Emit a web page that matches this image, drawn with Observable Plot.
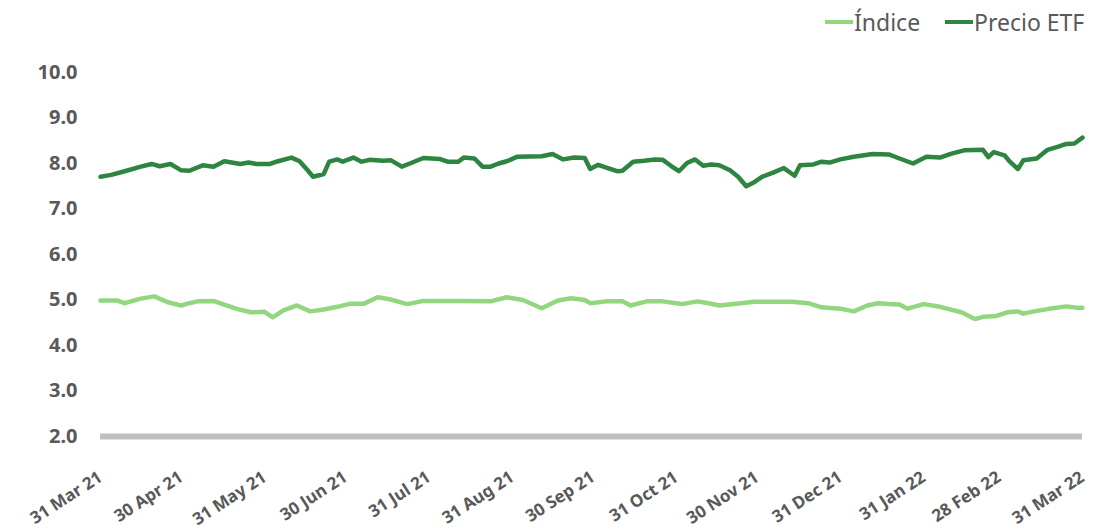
<!DOCTYPE html>
<html>
<head>
<meta charset="utf-8">
<script src="https://cdn.jsdelivr.net/npm/d3@7"></script>
<script src="https://cdn.jsdelivr.net/npm/@observablehq/plot@0.6"></script>
<style>
  body { margin: 0; background: #fff; width: 1114px; height: 529px; overflow: hidden; font-family: "Noto Sans", sans-serif; }
  #legend { position: relative; height: 50px; }
  .item { position: absolute; top: 6px; display: flex; align-items: center; font-size: 23px; color: #595959; }
  .sw { display: inline-block; width: 28px; height: 4px; margin-right: 1px; }
  #chart svg text { font-weight: bold; fill: #595959; }
</style>
</head>
<body>
<div id="legend">
  <div class="item" style="left:825px"><span class="sw" style="background:#92d67f"></span>Índice</div>
  <div class="item" style="left:945px"><span class="sw" style="background:#2e8540"></span>Precio ETF</div>
</div>
<div id="chart"></div>
<script>
const seriesNames = ["Índice", "Precio ETF"];
const seriesColors = ["#92d67f", "#2e8540"];

const etfDates = ["2021-03-31","2021-04-04","2021-04-09","2021-04-15","2021-04-19","2021-04-22","2021-04-26","2021-04-30","2021-05-03","2021-05-08","2021-05-12","2021-05-16","2021-05-22","2021-05-25","2021-05-28","2021-06-02","2021-06-05","2021-06-10","2021-06-13","2021-06-16","2021-06-18","2021-06-22","2021-06-24","2021-06-27","2021-06-29","2021-07-03","2021-07-06","2021-07-09","2021-07-14","2021-07-17","2021-07-21","2021-07-24","2021-07-29","2021-08-04","2021-08-07","2021-08-11","2021-08-13","2021-08-17","2021-08-20","2021-08-23","2021-08-26","2021-08-29","2021-09-02","2021-09-11","2021-09-15","2021-09-19","2021-09-23","2021-09-27","2021-09-29","2021-10-02","2021-10-05","2021-10-09","2021-10-11","2021-10-15","2021-10-19","2021-10-23","2021-10-26","2021-10-29","2021-11-01","2021-11-04","2021-11-07","2021-11-10","2021-11-13","2021-11-16","2021-11-20","2021-11-23","2021-11-26","2021-11-29","2021-12-02","2021-12-06","2021-12-10","2021-12-14","2021-12-16","2021-12-21","2021-12-24","2021-12-27","2021-12-31","2022-01-05","2022-01-12","2022-01-18","2022-01-22","2022-01-27","2022-02-01","2022-02-06","2022-02-10","2022-02-15","2022-02-22","2022-02-24","2022-02-26","2022-03-02","2022-03-04","2022-03-07","2022-03-09","2022-03-14","2022-03-18","2022-03-22","2022-03-25","2022-03-28","2022-03-31"];
const etfValues = [7.71,7.75,7.83,7.93,7.99,7.94,7.99,7.85,7.84,7.96,7.93,8.05,7.99,8.02,7.99,7.99,8.05,8.13,8.05,7.85,7.71,7.77,8.04,8.09,8.04,8.13,8.04,8.08,8.06,8.07,7.93,8.00,8.12,8.10,8.04,8.04,8.13,8.11,7.93,7.93,8.00,8.05,8.15,8.16,8.21,8.09,8.13,8.12,7.88,7.97,7.91,7.83,7.84,8.04,8.06,8.09,8.08,7.95,7.83,8.01,8.09,7.95,7.98,7.96,7.85,7.71,7.50,7.59,7.71,7.80,7.90,7.73,7.96,7.98,8.04,8.02,8.09,8.15,8.21,8.20,8.11,8.00,8.15,8.13,8.21,8.29,8.30,8.14,8.25,8.18,8.04,7.88,8.07,8.11,8.30,8.37,8.43,8.44,8.57];

const idxDates = ["2021-03-31","2021-04-06","2021-04-09","2021-04-15","2021-04-20","2021-04-25","2021-04-30","2021-05-03","2021-05-06","2021-05-12","2021-05-16","2021-05-21","2021-05-26","2021-05-31","2021-06-03","2021-06-07","2021-06-12","2021-06-17","2021-06-22","2021-06-27","2021-07-02","2021-07-07","2021-07-12","2021-07-17","2021-07-23","2021-07-29","2021-08-04","2021-08-11","2021-08-23","2021-08-29","2021-09-04","2021-09-11","2021-09-17","2021-09-22","2021-09-27","2021-09-29","2021-10-05","2021-10-11","2021-10-14","2021-10-20","2021-10-26","2021-11-02","2021-11-08","2021-11-12","2021-11-16","2021-11-24","2021-11-29","2021-12-13","2021-12-19","2021-12-24","2021-12-31","2022-01-05","2022-01-10","2022-01-14","2022-01-18","2022-01-22","2022-01-25","2022-01-31","2022-02-06","2022-02-14","2022-02-19","2022-02-22","2022-02-27","2022-03-03","2022-03-07","2022-03-09","2022-03-13","2022-03-18","2022-03-25","2022-03-29","2022-03-31"];
const idxValues = [4.99,4.99,4.93,5.03,5.08,4.95,4.88,4.93,4.97,4.98,4.90,4.80,4.73,4.74,4.62,4.77,4.88,4.75,4.79,4.85,4.92,4.92,5.06,5.01,4.91,4.98,4.98,4.98,4.97,5.06,5.00,4.82,4.99,5.04,5.00,4.93,4.97,4.97,4.88,4.97,4.97,4.91,4.97,4.93,4.88,4.93,4.96,4.96,4.93,4.84,4.81,4.75,4.88,4.93,4.91,4.90,4.81,4.91,4.85,4.73,4.58,4.63,4.65,4.73,4.75,4.70,4.75,4.80,4.86,4.83,4.83];

const xTickLabels = ["2021-03-31","2021-04-30","2021-05-31","2021-06-30","2021-07-31","2021-08-31","2021-09-30","2021-10-31","2021-11-30","2021-12-31","2022-01-31","2022-02-28","2022-03-31"];
const yTicks = [2,3,4,5,6,7,8,9,10];

const parse = d3.utcParse("%Y-%m-%d");
const idx = idxDates.map((d, i) => ({date: parse(d), value: idxValues[i]}));
const etf = etfDates.map((d, i) => ({date: parse(d), value: etfValues[i]}));

const chart = Plot.plot({
  width: 1114,
  height: 479,
  marginTop: 22,
  marginBottom: 93,
  marginLeft: 100,
  marginRight: 32,
  style: {fontFamily: "Noto Sans, sans-serif", background: "#fff"},
  x: {type: "utc", domain: [parse("2021-03-31"), parse("2022-03-31")]},
  y: {domain: [2, 10]},
  marks: [
    Plot.ruleY([2], {stroke: "#bfbfbf", strokeWidth: 6}),
    Plot.lineY(idx, {x: "date", y: "value", stroke: seriesColors[0], strokeWidth: 4.5}),
    Plot.lineY(etf, {x: "date", y: "value", stroke: seriesColors[1], strokeWidth: 4.5}),
    Plot.axisY({ticks: yTicks, tickFormat: d3.format(".1f"), tickSize: 0, tickPadding: 23, fontSize: 20, label: null}),
    Plot.axisX({ticks: xTickLabels.map(parse), tickFormat: d3.utcFormat("%d %b %y"), tickSize: 0, tickPadding: 39, tickRotate: -33, fontSize: 17, label: null})
  ]
});
document.getElementById("chart").appendChild(chart);
</script>
</body>
</html>
